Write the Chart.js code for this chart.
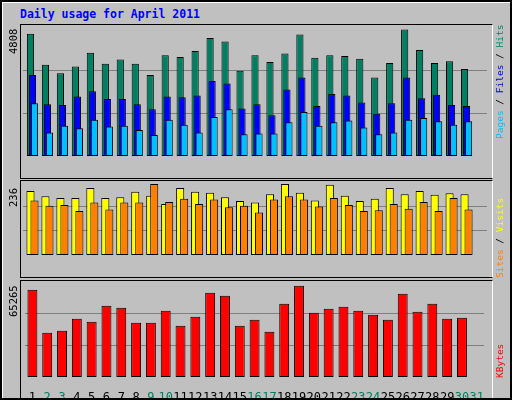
<!DOCTYPE html>
<html lang="en">
<head>
    <meta charset="UTF-8">
    <title>Daily usage for April 2011</title>
    <style>
        body { margin: 0; }
        #frame {
            position: relative;
            width: 508px; height: 396px;
            background: #c0c0c0;
            border: 2px solid #000;
            box-shadow: inset 1px 1px 0 #fff;
            font-family: "DejaVu Sans Mono", monospace;
            overflow: hidden;
        }
        #title { position: absolute; left: 18px; top: 5px; color: #0000ff; font-weight: bold; font-size: 11.5px; }
        .panel { position: absolute; left: 18px; width: 471px; border-top: 1px solid #000; border-left: 1px solid #000; border-right: 1px solid #fff; overflow: hidden; }
        .panel canvas { position: absolute; top: 0; }
        .lbl { position: absolute; font-size: 9.5px; white-space: nowrap; transform-origin: 0 0; transform: rotate(-90deg); }
        .yl { font-size: 10.5px; }
    </style>
</head>
<body>
<div id="frame">
    <div id="title">Daily usage for April 2011</div>

    <div class="panel" id="p1" style="top:22px;height:153px;border-bottom:1px solid #000"></div>
    <div class="panel" id="p2" style="top:178px;height:96px;border-bottom:1px solid #000"></div>
    <div class="panel" id="p3" style="top:278px;height:118px;border-top:1px solid #000"></div>

    <div class="lbl yl" style="left:5px;top:52px">4808</div>
    <div class="lbl yl" style="left:5px;top:205px">236</div>
    <div class="lbl yl" style="left:5px;top:315px">65265</div>

    <div class="lbl" style="left:492px;top:137px"><span style="color:#00c0ff">Pages</span> / <span style="color:#0000ff">Files</span> / <span style="color:#008060">Hits</span></div>
    <div class="lbl" style="left:492px;top:276px"><span style="color:#ff8000">Sites</span> / <span style="color:#ffff00">Visits</span></div>
    <div class="lbl" style="left:492px;top:376px"><span style="color:#ff0000">KBytes</span></div>
</div>

<script src="https://cdn.jsdelivr.net/npm/chart.js"></script>
<script>
    // Data
    const days = ['1','2','3','4','5','6','7','8','9','10','11','12','13','14','15','16','17','18','19','20','21','22','23','24','25','26','27','28','29','30','31'];
    const weekend = ['2','3','9','10','16','17','23','24','30','31'];
    const hits = [4562,3408,3088,3344,3857,3440,3601,3440,3024,3761,3697,3921,4402,4274,3184,3761,3504,3825,4530,3665,3761,3729,3633,2927,3472,4722,3953,3472,3536,3248];
    const files = [3024,1934,1902,2222,2415,2126,2126,1934,1741,2222,2190,2254,2799,2703,1774,1934,1517,2479,2927,1870,2318,2254,1998,1581,1966,2927,2158,2286,1902,1870];
    const pages = [1966,876,1133,1036,1357,1100,1133,972,780,1357,1165,876,1453,1742,812,844,844,1261,1645,1133,1261,1325,1068,812,876,1357,1421,1293,1165,1293];
    const visits = [206,189,184,184,216,184,186,204,191,164,216,204,201,186,174,169,196,229,201,176,226,191,174,181,216,196,206,194,199,196];
    const sites = [176,159,161,142,169,147,169,169,229,171,181,164,179,154,159,137,179,189,179,156,184,161,142,144,164,149,171,142,184,147];
    const kbytes = [60000,30457,31831,40075,38014,49006,47632,37327,37327,45571,35266,41449,57937,55876,35266,39388,31144,50380,62746,44197,46945,48319,45571,42823,39388,57250,44884,50380,40075,40762];
    const maxHits = 4808, maxVisits = 236, maxKB = 65265;

    // one canvas per series, overlaid with a small horizontal shift (webalizer style)
    function layer(panelId, h, data, color, bp, shift, max, top, grid, showX) {
        const c = document.createElement('canvas');
        c.width = 471; c.height = h;
        c.style.left = shift + 'px';
        document.getElementById(panelId).appendChild(c);
        new Chart(c, {
            type: 'bar',
            data: { labels: days, datasets: [{
                data: data, backgroundColor: color, borderColor: '#000', borderWidth: 1,
                borderSkipped: false, barPercentage: bp, categoryPercentage: 1
            }] },
            options: {
                responsive: false, animation: false,
                layout: { padding: { left: 6, right: 1, top: 0, bottom: 0 } },
                plugins: { legend: { display: false }, tooltip: { enabled: false } },
                scales: {
                    x: {
                        display: showX,
                        grid: { display: false }, border: { display: false },
                        ticks: {
                            maxRotation: 0, autoSkip: false, padding: 6,
                            font: { family: 'DejaVu Sans Mono', size: 12 },
                            color: ctx => weekend.includes(days[ctx.index]) ? '#008060' : '#000'
                        },
                        afterFit: s => { s.height = 22; }
                    },
                    y: {
                        min: 0, max: top,
                        ticks: { display: false },
                        border: { display: false },
                        grid: { display: grid, color: '#808080', drawTicks: false },
                        afterBuildTicks: s => { s.ticks = [{ value: max / 3 }, { value: max * 2 / 3 }]; },
                        afterFit: s => { s.width = 0; }
                    }
                }
            }
        });
    }

    const top1 = maxHits * 153 / 150.5;
    layer('p1', 153, hits, '#008060', 0.48, -4, maxHits, top1, true, false);
    layer('p1', 153, files, '#0000ff', 0.48, -2, maxHits, top1, false, false);
    layer('p1', 153, pages, '#00c0ff', 0.48, 0, maxHits, top1, false, false);

    const top2 = maxVisits * 96 / 95;
    layer('p2', 96, visits, '#ffff00', 0.54, -4, maxVisits, top2, true, false);
    layer('p2', 96, sites, '#ff8000', 0.54, 0, maxVisits, top2, false, false);

    layer('p3', 118, kbytes, '#ff0000', 0.67, -2, maxKB, maxKB * 96 / 95, true, true);
</script>
</body>
</html>
